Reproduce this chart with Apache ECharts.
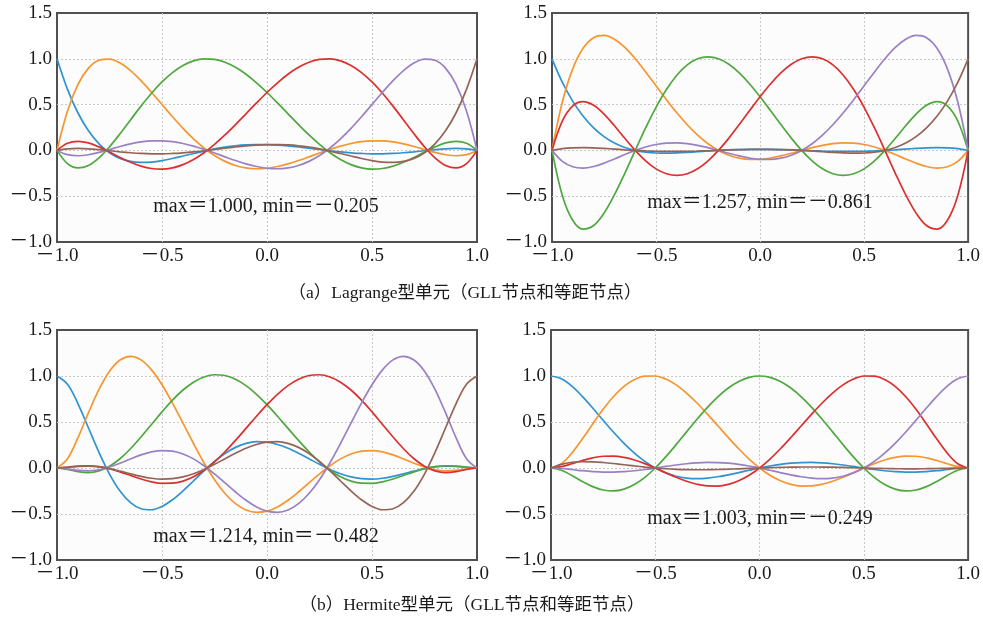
<!DOCTYPE html>
<html>
<head>
<meta charset="utf-8">
<script src="https://cdn.jsdelivr.net/npm/echarts@6/dist/echarts.min.js"></script>
<style>
html,body{margin:0;padding:0;background:#ffffff;}
#chart{width:983px;height:620px;}
</style>
</head>
<body>
<div id="chart"></div>
<script>
// sample abscissae (shared by all curves)
const xs = [-1, -0.95, -0.9, -0.85, -0.8, -0.75, -0.7, -0.65, -0.6, -0.55, -0.5, -0.45, -0.4, -0.35, -0.3, -0.25, -0.2, -0.15, -0.1, -0.05, 0, 0.05, 0.1, 0.15, 0.2, 0.25, 0.3, 0.35, 0.4, 0.45, 0.5, 0.55, 0.6, 0.65, 0.7, 0.75, 0.8, 0.85, 0.9, 0.95, 1];

const xTickLabels = ['－1.0', '－0.5', '0.0', '0.5', '1.0'];
const yTickLabels = ['－1.0', '－0.5', '0.0', '0.5', '1.0', '1.5'];

// (a) left: Lagrange, GLL nodes
const lagGll0 = [1, 0.6666, 0.4083, 0.2136, 0.0722, -0.0252, -0.0869, -0.1203, -0.1318, -0.1272, -0.1113, -0.0883, -0.0615, -0.0337, -0.0073, 0.0162, 0.0355, 0.0500, 0.0593, 0.0633, 0.0625, 0.0573, 0.0485, 0.0370, 0.0237, 0.0097, -0.0039, -0.0162, -0.0263, -0.0335, -0.0371, -0.0369, -0.0330, -0.0255, -0.0153, -0.0036, 0.0080, 0.0173, 0.0215, 0.0171, 0];
const lagGll1 = [0, 0.4294, 0.7209, 0.8986, 0.9843, 0.9973, 0.9548, 0.8718, 0.7613, 0.6343, 0.5004, 0.3671, 0.2407, 0.1259, 0.0262, -0.0561, -0.1198, -0.1646, -0.1911, -0.2005, -0.1946, -0.1759, -0.1469, -0.1107, -0.0702, -0.0285, 0.0114, 0.0469, 0.0754, 0.0952, 0.1048, 0.1037, 0.0921, 0.0709, 0.0424, 0.0099, -0.0220, -0.0473, -0.0584, -0.0463, 0];
const lagGll2 = [0, -0.1446, -0.1916, -0.1637, -0.0809, 0.0391, 0.1813, 0.3330, 0.4833, 0.6239, 0.7477, 0.8499, 0.9270, 0.9768, 0.9988, 0.9933, 0.9618, 0.9066, 0.8308, 0.7379, 0.6322, 0.5178, 0.3995, 0.2817, 0.1689, 0.0654, -0.0252, -0.0996, -0.1553, -0.1905, -0.2045, -0.1978, -0.1719, -0.1299, -0.0763, -0.0176, 0.0384, 0.0814, 0.0994, 0.0778, 0];
const lagGll3 = [0, 0.0778, 0.0994, 0.0814, 0.0384, -0.0176, -0.0763, -0.1299, -0.1719, -0.1978, -0.2045, -0.1905, -0.1553, -0.0996, -0.0252, 0.0654, 0.1689, 0.2817, 0.3995, 0.5178, 0.6322, 0.7379, 0.8308, 0.9066, 0.9618, 0.9933, 0.9988, 0.9768, 0.9270, 0.8499, 0.7477, 0.6239, 0.4833, 0.3330, 0.1813, 0.0391, -0.0809, -0.1637, -0.1916, -0.1446, 0];
const lagGll4 = [0, -0.0463, -0.0584, -0.0473, -0.0220, 0.0099, 0.0424, 0.0709, 0.0921, 0.1037, 0.1048, 0.0952, 0.0754, 0.0469, 0.0114, -0.0285, -0.0702, -0.1107, -0.1469, -0.1759, -0.1946, -0.2005, -0.1911, -0.1646, -0.1198, -0.0561, 0.0262, 0.1259, 0.2407, 0.3671, 0.5004, 0.6343, 0.7613, 0.8718, 0.9548, 0.9973, 0.9843, 0.8986, 0.7209, 0.4294, 0];
const lagGll5 = [0, 0.0171, 0.0215, 0.0173, 0.0080, -0.0036, -0.0153, -0.0255, -0.0330, -0.0369, -0.0371, -0.0335, -0.0263, -0.0162, -0.0039, 0.0097, 0.0237, 0.0370, 0.0485, 0.0573, 0.0625, 0.0633, 0.0593, 0.0500, 0.0355, 0.0162, -0.0073, -0.0337, -0.0615, -0.0883, -0.1113, -0.1272, -0.1318, -0.1203, -0.0869, -0.0252, 0.0722, 0.2136, 0.4083, 0.6666, 1];

// (a) right: Lagrange, equidistant nodes
const lagEq0 = [1, 0.7425, 0.5358, 0.3725, 0.2461, 0.1507, 0.0809, 0.0321, 0, -0.0190, -0.0282, -0.0302, -0.0273, -0.0215, -0.0143, -0.0068, 0, 0.0055, 0.0094, 0.0115, 0.0117, 0.0104, 0.0077, 0.0041, 0, -0.0041, -0.0077, -0.0104, -0.0117, -0.0115, -0.0094, -0.0055, 0, 0.0068, 0.0143, 0.0215, 0.0273, 0.0302, 0.0282, 0.0190, 0];
const lagEq1 = [0, 0.5304, 0.8929, 1.1174, 1.2305, 1.2557, 1.2140, 1.1235, 1, 0.8568, 0.7050, 0.5537, 0.4102, 0.2798, 0.1666, 0.0730, 0, -0.0522, -0.0846, -0.0989, -0.0977, -0.0837, -0.0604, -0.0313, 0, 0.0300, 0.0555, 0.0736, 0.0820, 0.0791, 0.0641, 0.0373, 0, -0.0449, -0.0934, -0.1395, -0.1758, -0.1927, -0.1786, -0.1198, 0];
const lagEq2 = [0, -0.4950, -0.7654, -0.8596, -0.8203, -0.6849, -0.4856, -0.2497, 0, 0.2448, 0.4700, 0.6644, 0.8203, 0.9328, 0.9998, 1.0214, 1, 0.9397, 0.8459, 0.7255, 0.5859, 0.4353, 0.2820, 0.1342, 0, -0.1135, -0.2000, -0.2544, -0.2734, -0.2555, -0.2014, -0.1142, 0, 0.1322, 0.2698, 0.3965, 0.4922, 0.5321, 0.4871, 0.3228, 0];
const lagEq3 = [0, 0.3228, 0.4871, 0.5321, 0.4922, 0.3965, 0.2698, 0.1322, 0, -0.1142, -0.2014, -0.2555, -0.2734, -0.2544, -0.2000, -0.1135, 0, 0.1342, 0.2820, 0.4353, 0.5859, 0.7255, 0.8459, 0.9397, 1, 1.0214, 0.9998, 0.9328, 0.8203, 0.6644, 0.4700, 0.2448, 0, -0.2497, -0.4856, -0.6849, -0.8203, -0.8596, -0.7654, -0.4950, 0];
const lagEq4 = [0, -0.1198, -0.1786, -0.1927, -0.1758, -0.1395, -0.0934, -0.0449, 0, 0.0373, 0.0641, 0.0791, 0.0820, 0.0736, 0.0555, 0.0300, 0, -0.0313, -0.0604, -0.0837, -0.0977, -0.0989, -0.0846, -0.0522, 0, 0.0730, 0.1666, 0.2798, 0.4102, 0.5537, 0.7050, 0.8568, 1, 1.1235, 1.2140, 1.2557, 1.2305, 1.1174, 0.8929, 0.5304, 0];
const lagEq5 = [0, 0.0190, 0.0282, 0.0302, 0.0273, 0.0215, 0.0143, 0.0068, 0, -0.0055, -0.0094, -0.0115, -0.0117, -0.0104, -0.0077, -0.0041, 0, 0.0041, 0.0077, 0.0104, 0.0117, 0.0115, 0.0094, 0.0055, 0, -0.0068, -0.0143, -0.0215, -0.0273, -0.0302, -0.0282, -0.0190, 0, 0.0321, 0.0809, 0.1507, 0.2461, 0.3725, 0.5358, 0.7425, 1];

// (b) left: Hermite, GLL nodes
const herGll0 = [1, 0.9099, 0.6981, 0.4346, 0.1689, -0.0662, -0.2511, -0.3771, -0.4430, -0.4536, -0.4175, -0.3455, -0.2495, -0.1412, -0.0313, 0.0708, 0.1577, 0.2242, 0.2673, 0.2860, 0.2813, 0.2559, 0.2139, 0.1602, 0.1004, 0.0400, -0.0157, -0.0623, -0.0964, -0.1160, -0.1206, -0.1114, -0.0910, -0.0634, -0.0336, -0.0068, 0.0124, 0.0205, 0.0174, 0.0071, 0];
const herGll1 = [0, 0.1010, 0.3303, 0.6013, 0.8545, 1.0522, 1.1743, 1.2141, 1.1749, 1.0669, 0.9050, 0.7060, 0.4875, 0.2664, 0.0575, -0.1269, -0.2774, -0.3881, -0.4562, -0.4823, -0.4694, -0.4231, -0.3508, -0.2608, -0.1624, -0.0644, 0.0251, 0.0992, 0.1528, 0.1831, 0.1896, 0.1745, 0.1421, 0.0987, 0.0521, 0.0105, -0.0191, -0.0316, -0.0268, -0.0109, 0];
const herGll2 = [0, -0.0154, -0.0396, -0.0494, -0.0317, 0.0186, 0.1007, 0.2093, 0.3367, 0.4737, 0.6105, 0.7378, 0.8476, 0.9331, 0.9894, 1.0137, 1.0051, 0.9647, 0.8953, 0.8013, 0.6881, 0.5623, 0.4305, 0.2998, 0.1766, 0.0667, -0.0250, -0.0951, -0.1420, -0.1654, -0.1670, -0.1502, -0.1197, -0.0816, -0.0424, -0.0084, 0.0150, 0.0246, 0.0206, 0.0083, 0];
const herGll3 = [0, 0.0083, 0.0206, 0.0246, 0.0150, -0.0084, -0.0424, -0.0816, -0.1197, -0.1502, -0.1670, -0.1654, -0.1420, -0.0951, -0.0250, 0.0667, 0.1766, 0.2998, 0.4305, 0.5623, 0.6881, 0.8013, 0.8953, 0.9647, 1.0051, 1.0137, 0.9894, 0.9331, 0.8476, 0.7378, 0.6105, 0.4737, 0.3367, 0.2093, 0.1007, 0.0186, -0.0317, -0.0494, -0.0396, -0.0154, 0];
const herGll4 = [0, -0.0109, -0.0268, -0.0316, -0.0191, 0.0105, 0.0521, 0.0987, 0.1421, 0.1745, 0.1896, 0.1831, 0.1528, 0.0992, 0.0251, -0.0644, -0.1624, -0.2608, -0.3508, -0.4231, -0.4694, -0.4823, -0.4562, -0.3881, -0.2774, -0.1269, 0.0575, 0.2664, 0.4875, 0.7060, 0.9050, 1.0669, 1.1749, 1.2141, 1.1743, 1.0522, 0.8545, 0.6013, 0.3303, 0.1010, 0];
const herGll5 = [0, 0.0071, 0.0174, 0.0205, 0.0124, -0.0068, -0.0336, -0.0634, -0.0910, -0.1114, -0.1206, -0.1160, -0.0964, -0.0623, -0.0157, 0.0400, 0.1004, 0.1602, 0.2139, 0.2559, 0.2813, 0.2860, 0.2673, 0.2242, 0.1577, 0.0708, -0.0313, -0.1412, -0.2495, -0.3455, -0.4175, -0.4536, -0.4430, -0.3771, -0.2511, -0.0662, 0.1689, 0.4346, 0.6981, 0.9099, 1];

// (b) right: Hermite, equidistant nodes
const herEq0 = [1, 0.9690, 0.8895, 0.7789, 0.6515, 0.5184, 0.3884, 0.2680, 0.1615, 0.0717, 0, -0.0534, -0.0894, -0.1093, -0.1154, -0.1099, -0.0954, -0.0747, -0.0503, -0.0247, 0, 0.0220, 0.0397, 0.0523, 0.0591, 0.0601, 0.0554, 0.0459, 0.0325, 0.0167, 0, -0.0160, -0.0298, -0.0398, -0.0450, -0.0448, -0.0391, -0.0290, -0.0166, -0.0052, 0];
const herEq1 = [0, 0.0466, 0.1617, 0.3142, 0.4792, 0.6380, 0.7768, 0.8864, 0.9612, 0.9990, 1, 0.9667, 0.9032, 0.8145, 0.7066, 0.5859, 0.4588, 0.3312, 0.2091, 0.0973, 0, -0.0796, -0.1394, -0.1784, -0.1966, -0.1953, -0.1767, -0.1437, -0.1004, -0.0509, 0, 0.0476, 0.0874, 0.1156, 0.1295, 0.1276, 0.1106, 0.0815, 0.0462, 0.0145, 0];
const herEq2 = [0, -0.0248, -0.0809, -0.1455, -0.2022, -0.2393, -0.2497, -0.2301, -0.1802, -0.1022, 0, 0.1208, 0.2540, 0.3927, 0.5300, 0.6592, 0.7741, 0.8695, 0.9409, 0.9851, 1, 0.9851, 0.9409, 0.8695, 0.7741, 0.6592, 0.5300, 0.3927, 0.2540, 0.1208, 0, -0.1022, -0.1802, -0.2301, -0.2497, -0.2393, -0.2022, -0.1455, -0.0809, -0.0248, 0];
const herEq3 = [0, 0.0145, 0.0462, 0.0815, 0.1106, 0.1276, 0.1295, 0.1156, 0.0874, 0.0476, 0, -0.0509, -0.1004, -0.1437, -0.1767, -0.1953, -0.1966, -0.1784, -0.1394, -0.0796, 0, 0.0973, 0.2091, 0.3312, 0.4588, 0.5859, 0.7066, 0.8145, 0.9032, 0.9667, 1, 0.9990, 0.9612, 0.8864, 0.7768, 0.6380, 0.4792, 0.3142, 0.1617, 0.0466, 0];
const herEq4 = [0, -0.0052, -0.0166, -0.0290, -0.0391, -0.0448, -0.0450, -0.0398, -0.0298, -0.0160, 0, 0.0167, 0.0325, 0.0459, 0.0554, 0.0601, 0.0591, 0.0523, 0.0397, 0.0220, 0, -0.0247, -0.0503, -0.0747, -0.0954, -0.1099, -0.1154, -0.1093, -0.0894, -0.0534, 0, 0.0717, 0.1615, 0.2680, 0.3884, 0.5184, 0.6515, 0.7789, 0.8895, 0.9690, 1];
const herEq5 = [0, 0.0393, 0.0606, 0.0687, 0.0674, 0.0598, 0.0486, 0.0356, 0.0225, 0.0104, 0, -0.0082, -0.0141, -0.0176, -0.0189, -0.0183, -0.0161, -0.0128, -0.0087, -0.0043, 0, 0.0039, 0.0071, 0.0095, 0.0108, 0.0110, 0.0102, 0.0085, 0.0060, 0.0031, 0, -0.0030, -0.0056, -0.0076, -0.0086, -0.0085, -0.0075, -0.0056, -0.0032, -0.0010, 0];

const annotations = ['max＝1.000, min＝－0.205', 'max＝1.257, min＝－0.861', 'max＝1.214, min＝－0.482', 'max＝1.003, min＝－0.249'];
const captions = ['（a）Lagrange型单元（GLL节点和等距节点）', '（b）Hermite型单元（GLL节点和等距节点）'];

const panels = [
  [lagGll0, lagGll1, lagGll2, lagGll3, lagGll4, lagGll5],
  [lagEq0, lagEq1, lagEq2, lagEq3, lagEq4, lagEq5],
  [herGll0, herGll1, herGll2, herGll3, herGll4, herGll5],
  [herEq0, herEq1, herEq2, herEq3, herEq4, herEq5]
];

const colors = ['#2f93d0', '#f7952f', '#4fa83f', '#dc2f2f', '#9a80c4', '#966457'];
const serif = "'Liberation Serif', 'Times New Roman', 'Noto Sans CJK SC', serif";

const gridBoxes = [
  {left: 57, top: 13, width: 420, height: 229},
  {left: 552, top: 13, width: 419, height: 229},
  {left: 57, top: 330, width: 420, height: 230},
  {left: 551, top: 330, width: 420, height: 230}
];
const annoPos = [[266, 207], [760, 203], [266, 537], [760, 519]];
const capPos = [[465, 293], [472, 605]];

const grids = gridBoxes.map(g => Object.assign({show: true, borderColor: '#505050', borderWidth: 2, backgroundColor: '#fcfcfc'}, g));

const splitStyle = {show: true, showMinLine: false, showMaxLine: false, lineStyle: {color: '#c9c9c9', width: 1, type: [2, 2]}};
const xAxes = gridBoxes.map((g, i) => ({
  type: 'value', gridIndex: i, min: -1, max: 1, interval: 0.5,
  axisLine: {show: false}, axisTick: {show: false}, splitLine: splitStyle,
  axisLabel: {fontFamily: serif, fontSize: 19, color: '#1a1a1a', margin: 5,
    formatter: v => xTickLabels[Math.round((v + 1) / 0.5)]}
}));
const yAxes = gridBoxes.map((g, i) => ({
  type: 'value', gridIndex: i, min: -1, max: 1.5, interval: 0.5,
  axisLine: {show: false}, axisTick: {show: false}, splitLine: splitStyle,
  axisLabel: {fontFamily: serif, fontSize: 19, color: '#1a1a1a', margin: 5,
    formatter: v => yTickLabels[Math.round((v + 1) / 0.5)]}
}));

const series = [];
panels.forEach((curves, p) => {
  curves.forEach((ys, k) => {
    series.push({
      type: 'line', xAxisIndex: p, yAxisIndex: p,
      data: xs.map((x, i) => [x, ys[i]]),
      showSymbol: false, smooth: 0.35,
      lineStyle: {color: colors[k], width: 1.7},
      itemStyle: {color: colors[k]},
      z: 2 + k
    });
  });
});

const graphics = [];
annotations.forEach((t, i) => {
  graphics.push({type: 'text', x: annoPos[i][0], y: annoPos[i][1], z: 100,
    style: {text: t, font: '20px ' + serif, fill: '#1a1a1a', textAlign: 'center', textVerticalAlign: 'middle'}});
});
captions.forEach((t, i) => {
  graphics.push({type: 'text', x: capPos[i][0], y: capPos[i][1], z: 100,
    style: {text: t, font: '17.5px ' + serif, fill: '#1a1a1a', textAlign: 'center', textVerticalAlign: 'middle'}});
});

const chart = echarts.init(document.getElementById('chart'), null, {renderer: 'canvas'});
chart.setOption({
  animation: false,
  backgroundColor: '#ffffff',
  grid: grids,
  xAxis: xAxes,
  yAxis: yAxes,
  series: series,
  graphic: graphics
});
</script>
</body>
</html>
